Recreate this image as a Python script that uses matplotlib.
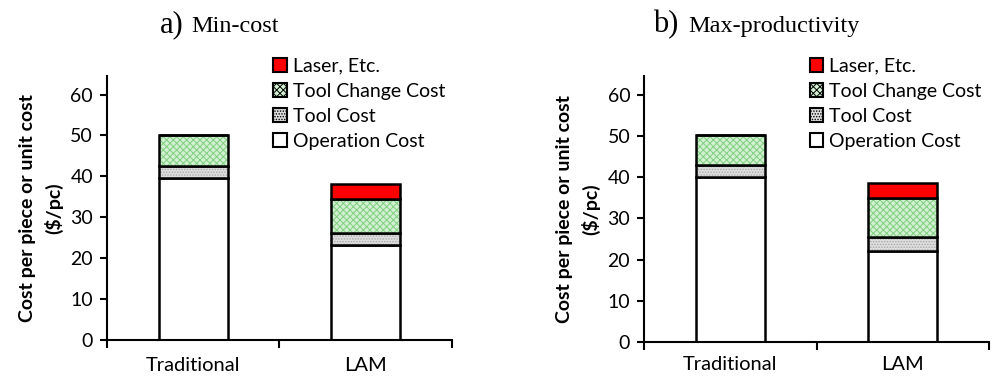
import matplotlib.pyplot as plt
from matplotlib.patches import Patch
import numpy as np

# データ（図から読み取った値, $/pc）
categories = ["Traditional", "LAM"]
series_names = ["Operation Cost", "Tool Cost", "Tool Change Cost", "Laser, Etc."]

# a) Min-cost
min_cost_operation = [39.7, 23.2]
min_cost_tool = [2.8, 3.0]
min_cost_change = [7.5, 8.2]
min_cost_laser = [0.0, 3.7]

# b) Max-productivity
max_prod_operation = [40.0, 22.2]
max_prod_tool = [2.9, 3.3]
max_prod_change = [7.3, 9.5]
max_prod_laser = [0.0, 3.5]

# 系列ごとのスタイル（塗り色, ハッチ, ハッチ色）
styles = {
    "Operation Cost": ("white", None, None),
    "Tool Cost": ("#dedede", "......", "#a8a8a8"),
    "Tool Change Cost": ("#d2f0d2", "xxxxx", "#80cf80"),
    "Laser, Etc.": ("#ff0000", None, None),
}

plt.rcParams["font.family"] = ["Lato", "DejaVu Sans"]
plt.rcParams["hatch.linewidth"] = 0.7

fig = plt.figure(figsize=(9.97, 3.79), dpi=100)


def draw_panel(rect, values, letter, title, letter_x, title_x, legend_x, xpad):
    ax = fig.add_axes(rect)
    x = np.arange(len(categories))
    bottom = np.zeros(len(categories))
    for name, vals in zip(series_names, values):
        vals = np.array(vals)
        face, hatch, hcolor = styles[name]
        if hatch is not None:
            # ハッチ色を分けるため 2 回描く
            ax.bar(x, vals, 0.4, bottom=bottom, color=face, hatch=hatch,
                   edgecolor=hcolor, linewidth=0)
            ax.bar(x, vals, 0.4, bottom=bottom, color="none",
                   edgecolor="black", linewidth=1.8)
        else:
            ax.bar(x, vals, 0.4, bottom=bottom, color=face,
                   edgecolor="black", linewidth=1.8)
        bottom = bottom + vals

    ax.set_xlim(-0.5, 1.5)
    ax.set_ylim(0, 64.5)
    ax.set_yticks(range(0, 61, 10))
    ax.spines["top"].set_visible(False)
    ax.spines["right"].set_visible(False)
    ax.spines["left"].set_linewidth(1.5)
    ax.spines["bottom"].set_linewidth(1.5)
    ax.set_xticks([-0.5, 0.5, 1.5])
    ax.set_xticklabels([])
    ax.set_xticks(x, minor=True)
    ax.set_xticklabels(categories, minor=True, fontsize=14.5)
    ax.tick_params(axis="x", which="major", direction="out", length=6, width=1.5)
    ax.tick_params(axis="x", which="minor", length=0, pad=xpad)
    ax.tick_params(axis="y", direction="out", length=5, width=1.5, labelsize=14, pad=5)
    ax.set_ylabel("Cost per piece or unit cost\n($/pc)", fontsize=14,
                  fontweight="bold", linespacing=1.55, labelpad=5)

    # タイトル（"a)" を大きめに）
    fig.text(letter_x, 0.916, letter, family="Liberation Serif", fontsize=22,
             ha="right", va="baseline")
    fig.text(title_x, 0.916, title, family="Liberation Serif", fontsize=17.5,
             ha="left", va="baseline")

    # 凡例（上から Laser → Operation）
    leg_handles = []
    leg_labels = []
    for name in reversed(series_names):
        face, hatch, hcolor = styles[name]
        leg_handles.append(Patch(facecolor=face, edgecolor="black",
                                 hatch=hatch, linewidth=1.5))
        leg_labels.append(name)
    fig.legend(leg_handles, leg_labels, loc="upper left",
               bbox_to_anchor=(legend_x, 0.848), frameon=False,
               fontsize=14, handlelength=0.7, handleheight=0.7,
               handletextpad=0.3, labelspacing=0.42, borderaxespad=0,
               borderpad=0)
    return ax


draw_panel([0.1073, 0.103, 0.346, 0.696],
           [min_cost_operation, min_cost_tool, min_cost_change, min_cost_laser],
           "a)", "Min-cost", 0.184, 0.192, 0.274, 12)
draw_panel([0.646, 0.097, 0.346, 0.702],
           [max_prod_operation, max_prod_tool, max_prod_change, max_prod_laser],
           "b)", "Max-productivity", 0.68, 0.69, 0.812, 10)

fig.savefig("out.png", dpi=100)
